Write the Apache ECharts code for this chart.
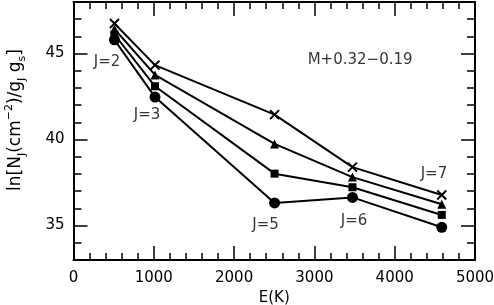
<!DOCTYPE html>
<html>
<head>
<meta charset="utf-8">
<script src="https://cdn.jsdelivr.net/npm/echarts@6/dist/echarts.min.js"></script>
<style>
html,body{margin:0;padding:0;background:#fff;}
#chart{width:494px;height:305px;}
</style>
</head>
<body>
<div id="chart"></div>
<script>
// Data
const energies = [510, 1015, 2504, 3474, 4586];
const crossVals = [46.75, 44.33, 41.45, 38.40, 36.78];
const triVals = [46.43, 43.76, 39.75, 37.82, 36.24];
const sqVals = [46.11, 43.10, 38.02, 37.23, 35.62];
const circVals = [45.80, 42.47, 36.32, 36.64, 34.90];

const xTicks = [0, 1000, 2000, 3000, 4000, 5000];
const yTicks = [35, 40, 45];
const yRange = [33, 48];

const noteTexts = ['J=2', 'J=3', 'J=5', 'J=6', 'J=7', 'M+0.32\u22120.19'];
const noteX = [417, 915, 2391, 3493, 4489, 3569];
const noteY = [44.53, 41.45, 35.0, 35.29, 38.02, 44.65];

const FONT = 'DejaVu Sans';
const chart = echarts.init(document.getElementById('chart'), null, {renderer: 'canvas'});

function pairs(vals) { return energies.map((e, i) => [e, vals[i]]); }

// layout of main plot box
const GL = 73.5, GW = 401.5, GT = 2, GH = 258;
// sub-grid spanning the labelled major ticks (same vertical scale)
const pxPerUnit = GH / (yRange[1] - yRange[0]);
const majorTop = GT + (yRange[1] - yTicks[yTicks.length - 1]) * pxPerUnit;
const majorH = (yTicks[yTicks.length - 1] - yTicks[0]) * pxPerUnit;

const lineBase = {
  type: 'line',
  xAxisIndex: 0, yAxisIndex: 0,
  lineStyle: {color: '#000', width: 2},
  animation: false,
  z: 3
};

const crossPath = 'path://M0,0L10,10M10,0L0,10';
const tickStyle = {color: '#000', width: 1.5};

const opt = {
  backgroundColor: '#fff',
  animation: false,
  grid: [
    {left: GL, width: GW, top: GT, height: GH, containLabel: false, outerBoundsMode: 'none'},
    {left: GL, width: GW, top: majorTop, height: majorH, containLabel: false, outerBoundsMode: 'none'}
  ],
  xAxis: [{
    type: 'value', min: 0, max: 5000, interval: 1000, position: 'bottom', gridIndex: 0,
    axisLine: {show: true, onZero: false, lineStyle: {color: '#000', width: 2}},
    axisTick: {show: true, inside: true, length: 14, lineStyle: tickStyle},
    minorTick: {show: true, splitNumber: 5, length: 7, lineStyle: tickStyle},
    splitLine: {show: false},
    axisLabel: {show: true, color: '#000', fontFamily: FONT, fontSize: 15, margin: 11,
      formatter: v => (xTicks.indexOf(v) >= 0 ? String(v) : '')},
    name: 'E(K)', nameLocation: 'middle', nameGap: 28,
    nameTextStyle: {color: '#000', fontFamily: FONT, fontSize: 15}
  }, {
    type: 'value', min: 0, max: 5000, interval: 1000, position: 'top', gridIndex: 0,
    axisLine: {show: true, onZero: false, lineStyle: {color: '#000', width: 2}},
    axisTick: {show: true, inside: true, length: 14, lineStyle: tickStyle},
    minorTick: {show: true, splitNumber: 5, length: 7, lineStyle: tickStyle},
    splitLine: {show: false},
    axisLabel: {show: false}
  }, {
    type: 'value', min: 0, max: 5000, gridIndex: 1, show: false
  }],
  yAxis: [
    {
      type: 'value', min: yRange[0], max: yRange[1], interval: 1, position: 'left', gridIndex: 0,
      axisLine: {show: true, onZero: false, lineStyle: {color: '#000', width: 2}},
      axisTick: {show: true, inside: true, length: 8, lineStyle: tickStyle},
      splitLine: {show: false},
      axisLabel: {show: false}
    },
    {
      type: 'value', min: yRange[0], max: yRange[1], interval: 1, position: 'right', gridIndex: 0,
      axisLine: {show: true, onZero: false, lineStyle: {color: '#000', width: 2}},
      axisTick: {show: true, inside: true, length: 8, lineStyle: tickStyle},
      splitLine: {show: false},
      axisLabel: {show: false}
    },
    {
      type: 'value', min: yTicks[0], max: yTicks[yTicks.length - 1], interval: 5, position: 'left', gridIndex: 1,
      axisLine: {show: false, onZero: false},
      axisTick: {show: true, inside: true, length: 14, lineStyle: tickStyle},
      splitLine: {show: false},
      axisLabel: {show: true, color: '#000', fontFamily: FONT, fontSize: 15, margin: 9}
    },
    {
      type: 'value', min: yTicks[0], max: yTicks[yTicks.length - 1], interval: 5, position: 'right', gridIndex: 1,
      axisLine: {show: false, onZero: false},
      axisTick: {show: true, inside: true, length: 14, lineStyle: tickStyle},
      splitLine: {show: false},
      axisLabel: {show: false}
    }
  ],
  series: [
    Object.assign({}, lineBase, {name: 'cross', data: pairs(crossVals), symbol: crossPath, symbolSize: 9,
      itemStyle: {color: 'none', borderColor: '#000', borderWidth: 2}}),
    Object.assign({}, lineBase, {name: 'tri', data: pairs(triVals), symbol: 'triangle', symbolSize: 9,
      itemStyle: {color: '#000'}}),
    Object.assign({}, lineBase, {name: 'sq', data: pairs(sqVals), symbol: 'rect', symbolSize: 8,
      itemStyle: {color: '#000'}}),
    Object.assign({}, lineBase, {name: 'circ', data: pairs(circVals), symbol: 'circle', symbolSize: 11,
      itemStyle: {color: '#000'}}),
    {
      type: 'scatter', xAxisIndex: 0, yAxisIndex: 0, symbolSize: 0, silent: true, z: 5,
      data: noteTexts.map((t, i) => ({value: [noteX[i], noteY[i]], name: t})),
      label: {show: true, position: 'inside', color: '#000', fontFamily: FONT, fontSize: 15,
        formatter: p => p.name}
    },
    {
      type: 'line', xAxisIndex: 2, yAxisIndex: 2, data: [], silent: true
    }
  ],
  graphic: [{
    type: 'text', x: 16, y: 120, rotation: Math.PI / 2, z: 10,
    style: {
      text: '{a|ln[N}{sub|J}{a|(cm}{sup|\u22122}{a|)/g}{sub|J}{a| g}{sub|s}{a|]}',
      align: 'center', verticalAlign: 'middle',
      rich: {
        a: {fontFamily: FONT, fontSize: 17, fill: '#000', lineHeight: 24, verticalAlign: 'middle'},
        sub: {fontFamily: FONT, fontSize: 11, fill: '#000', lineHeight: 24, verticalAlign: 'bottom'},
        sup: {fontFamily: FONT, fontSize: 11, fill: '#000', lineHeight: 24, verticalAlign: 'top'}
      }
    }
  }]
};
chart.setOption(opt);
</script>
</body>
</html>
